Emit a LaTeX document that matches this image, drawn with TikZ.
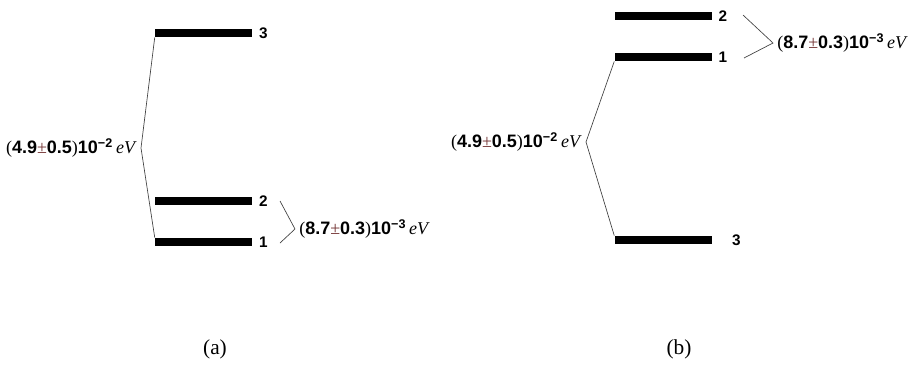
\documentclass[tikz,border=0pt]{standalone}
\usepackage{fontspec}
\setmainfont{Liberation Serif}
\setsansfont{Liberation Sans}
\usetikzlibrary{positioning}
\definecolor{pmred}{rgb}{0.45,0.2,0.2}

\newcommand{\splitval}[3]{(\textsf{\bfseries #1}\textcolor{pmred}{±}\textsf{\bfseries #2})\textsf{\bfseries 10\textsuperscript{−#3}}\,\textit{eV}}

\begin{document}
\begin{tikzpicture}[x=0.75pt, y=-0.75pt,
                    lvl/.style = {fill=black, minimum width=72.75pt, minimum height=6.3pt, inner sep=0pt},
                    num/.style = {font=\sffamily\bfseries\fontsize{11.5}{13}\selectfont, inner sep=0pt},
                    val/.style = {font=\fontsize{13.5}{15}\selectfont, inner sep=3pt},
                    brk/.style = {draw=black!75, line width=0.5pt}]
                    \useasboundingbox (0,0) rectangle (912,365);
                    % (a)
                    \node[lvl] (A3) at (203.5,33) {};
                    \node[lvl] (A2) at (203.5,201) {};
                    \node[lvl] (A1) at (203.5,242) {};
                    \node[num] (nA3) [right=5pt of A3] {3};
                    \node[num] (nA2) [right=5pt of A2] {2};
                    \node[num] (nA1) [right=5pt of A1] {1};
                    \node[val, anchor=east] (dA) at (141,148) {\splitval{4.9}{0.5}{2}};
                    \node[val, anchor=west] (sA) at (295,229) {\splitval{8.7}{0.3}{3}};
                    \coordinate (pA2) at (280,201);
                    \coordinate (pA1) at (280,243);
                    \draw[brk] (A3.south west) -- (dA.east) -- (A1.north west);
                    \draw[brk] (pA2) -- (sA.west) -- (pA1);
                    \node[font=\fontsize{16}{18}\selectfont] (capA) at (215,349) {(a)};
                    % (b)
                    \node[lvl] (B2) at (663,16) {};
                    \node[lvl] (B1) at (663,57) {};
                    \node[lvl] (B3) at (663,240) {};
                    \node[num] (nB2) [right=5pt of B2] {2};
                    \node[num] (nB1) [right=5pt of B1] {1};
                    \node[num] (nB3) [right=15pt of B3] {3};
                    \node[val, anchor=east] (dB) at (586,142) {\splitval{4.9}{0.5}{2}};
                    \node[val, anchor=west] (sB) at (773,43) {\splitval{8.7}{0.3}{3}};
                    \coordinate (pB2) at (743,15);
                    \coordinate (pB1) at (744,58);
                    \draw[brk] (B1.south west) -- (dB.east) -- (B3.north west);
                    \draw[brk] (pB2) -- (sB.west) -- (pB1);
                    \node[font=\fontsize{16}{18}\selectfont] (capB) at (679,349) {(b)};
                \end{tikzpicture}
\end{document}
